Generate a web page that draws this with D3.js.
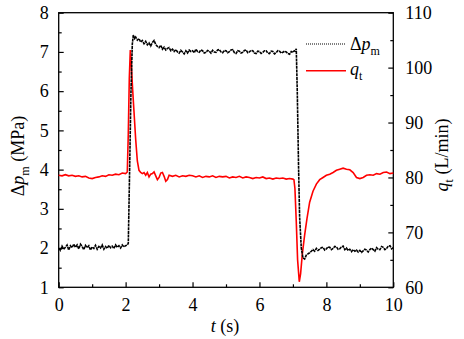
<!DOCTYPE html>
<html><head><meta charset="utf-8">
<script src="https://cdn.jsdelivr.net/npm/d3@7"></script>
<style>body{margin:0;background:#fff}svg{display:block}</style>
</head><body><svg id="c" width="464" height="339"></svg>
<script>
// ---- data ----
const xTicks = [0,2,4,6,8,10];
const yLeftTicks = [1,2,3,4,5,6,7,8];
const yRightTicks = [60,70,80,90,100,110];
// Δp_m (MPa) vs t (s)
const dpT = [0,0.05,0.1,0.15,0.2,0.25,0.3,0.35,0.4,0.45,0.5,0.55,0.6,0.65,0.7,0.75,0.8,0.85,0.9,0.95,1.0,1.05,1.1,1.15,1.2,1.25,1.3,1.35,1.4,1.45,1.5,1.55,1.6,1.65,1.7,1.75,1.8,1.85,1.9,1.95,2.0,2.05,2.08,2.12,2.16,2.2,2.23,2.27,2.3,2.35,2.4,2.45,2.5,2.55,2.6,2.65,2.7,2.75,2.8,2.85,2.9,2.95,3.0,3.05,3.1,3.15,3.2,3.25,3.3,3.35,3.4,3.45,3.5,3.55,3.6,3.65,3.7,3.75,3.8,3.85,3.9,3.95,4.0,4.05,4.1,4.15,4.2,4.25,4.3,4.35,4.4,4.45,4.5,4.55,4.6,4.65,4.7,4.75,4.8,4.85,4.9,4.95,5.0,5.05,5.1,5.15,5.2,5.25,5.3,5.35,5.4,5.45,5.5,5.55,5.6,5.65,5.7,5.75,5.8,5.85,5.9,5.95,6.0,6.05,6.1,6.15,6.2,6.25,6.3,6.35,6.4,6.45,6.5,6.55,6.6,6.65,6.7,6.75,6.8,6.85,6.9,6.95,7.0,7.04,7.07,7.1,7.13,7.17,7.2,7.25,7.3,7.35,7.4,7.45,7.5,7.55,7.6,7.65,7.7,7.75,7.8,7.85,7.9,7.95,8.0,8.05,8.1,8.15,8.2,8.25,8.3,8.35,8.4,8.45,8.5,8.55,8.6,8.65,8.7,8.75,8.8,8.85,8.9,8.95,9.0,9.05,9.1,9.15,9.2,9.25,9.3,9.35,9.4,9.45,9.5,9.55,9.6,9.65,9.7,9.75,9.8,9.85,9.9,9.95,10.0];
const dpV = [2.00,1.94,2.05,1.97,2.02,2.08,1.95,2.06,2.01,2.10,2.02,2.08,1.98,2.10,2.04,1.96,2.07,2.01,2.06,1.95,2.03,1.99,2.07,1.97,2.04,2.00,2.08,1.97,2.04,1.99,2.07,2.01,2.05,1.99,2.08,2.02,2.06,2.00,2.08,2.03,2.06,2.08,2.12,4.0,6.0,7.2,7.43,7.34,7.38,7.30,7.34,7.25,7.29,7.21,7.27,7.18,7.23,7.15,7.24,7.29,7.19,7.14,7.11,7.17,7.07,7.12,7.05,7.09,7.11,7.03,7.07,7.01,7.06,7.00,6.97,7.04,7.00,6.95,7.03,6.97,7.05,7.01,7.03,6.98,7.07,7.01,6.99,7.05,7.03,6.97,6.99,7.04,7.02,6.97,7.04,7.00,6.99,7.05,7.06,7.00,6.98,7.04,7.03,6.98,7.01,7.05,7.06,6.98,6.96,7.03,7.02,6.97,6.99,7.04,7.05,6.98,7.00,7.04,7.03,6.97,6.96,7.02,7.01,6.96,6.99,7.03,7.03,6.97,6.96,7.02,7.01,6.95,6.98,7.03,7.02,6.97,6.99,7.02,7.00,6.96,6.94,7.01,6.99,7.03,7.02,7.08,6.0,4.0,2.8,2.0,1.75,1.72,1.82,1.85,1.88,1.92,1.96,1.92,1.99,1.94,1.97,2.01,2.02,1.95,1.98,2.03,2.02,1.96,1.99,2.04,2.03,1.97,1.98,2.03,2.05,1.96,2.00,1.94,1.97,1.91,1.96,1.92,1.95,1.90,1.94,1.89,1.93,1.97,1.95,1.90,1.96,2.00,1.96,1.92,2.01,1.97,1.96,2.04,2.02,1.96,1.99,2.05,2.06,1.98,2.01,2.07,2.03];
// q_t (L/min) vs t (s)
const qT = [0,0.1,0.2,0.3,0.4,0.5,0.6,0.7,0.8,0.9,1.0,1.1,1.2,1.3,1.4,1.5,1.6,1.7,1.8,1.9,2.0,2.05,2.08,2.11,2.14,2.17,2.21,2.25,2.3,2.35,2.4,2.45,2.5,2.55,2.6,2.65,2.7,2.75,2.8,2.85,2.9,2.95,3.0,3.05,3.1,3.15,3.2,3.25,3.3,3.4,3.5,3.6,3.7,3.8,3.9,4.0,4.1,4.2,4.3,4.4,4.5,4.6,4.7,4.8,4.9,5.0,5.1,5.2,5.3,5.4,5.5,5.6,5.7,5.8,5.9,6.0,6.1,6.2,6.3,6.4,6.5,6.6,6.7,6.8,6.9,7.0,7.03,7.06,7.1,7.14,7.19,7.23,7.28,7.35,7.42,7.5,7.6,7.7,7.8,7.9,8.0,8.1,8.2,8.3,8.4,8.5,8.6,8.7,8.8,8.9,9.0,9.1,9.2,9.3,9.4,9.5,9.6,9.7,9.8,9.9,10.0];
const qV = [80.4,80.3,80.5,80.3,80.4,80.2,80.3,80.1,80.2,79.9,79.8,80.0,80.1,80.3,80.2,80.5,80.4,80.6,80.5,80.8,80.7,81.0,88,98,103.2,100.5,96,92,87,83,81.3,80.9,80.7,80.9,80.4,80.9,80.1,80.6,80.7,81.0,80.3,79.6,80.0,80.8,80.9,80.2,79.3,79.6,80.4,80.2,80.4,80.1,80.3,80.2,80.4,80.3,80.1,80.3,80.0,80.2,80.1,80.3,80.0,80.2,80.1,80.2,79.9,80.1,80.0,80.2,79.9,80.1,80.0,79.8,80.0,79.9,80.1,79.8,79.9,79.7,79.9,79.8,79.9,79.7,79.8,79.7,79.6,78,72,65,61.0,62.5,66,69.5,72.5,75.5,77.5,78.8,79.6,80.0,80.4,80.6,80.9,81.3,81.5,81.7,81.5,81.4,80.9,80.0,79.8,80.0,80.4,80.5,80.4,80.7,80.6,80.9,81.0,80.7,80.8];

// ---- layout ----
const FONT = "Liberation Serif";
const svg = d3.select('#c');
const L = 58.7, R = 393.3, T = 12.7, B = 287.3;
const x = d3.scaleLinear().domain([0,10]).range([L,R]);
const yL = d3.scaleLinear().domain([1,8]).range([B,T]);
const yR = d3.scaleLinear().domain([60,110]).range([B,T]);
const FS = 18;

// frame
svg.append('rect').attr('x',L).attr('y',T).attr('width',R-L).attr('height',B-T)
  .attr('fill','none').attr('stroke','#000').attr('stroke-width',1.3);

function styleAxis(g){
  g.attr('font-family', FONT).attr('font-size', FS);
  g.select('.domain').remove();
  g.selectAll('line').attr('stroke','#000').attr('stroke-width',1.2);
  g.selectAll('text').attr('font-size',FS).attr('fill','#000').attr('font-family', FONT);
}
// bottom axis
const gx = svg.append('g').attr('transform',`translate(0,${B})`)
  .call(d3.axisBottom(x).tickValues(xTicks).tickFormat(d3.format('d')).tickSizeInner(-5).tickSizeOuter(0).tickPadding(11));
styleAxis(gx);
const gxm = svg.append('g').attr('transform',`translate(0,${B})`)
  .call(d3.axisBottom(x).tickValues([1,3,5,7,9]).tickFormat('').tickSizeInner(-3).tickSizeOuter(0));
styleAxis(gxm);
// left axis
const gl = svg.append('g').attr('transform',`translate(${L},0)`)
  .call(d3.axisLeft(yL).tickValues(yLeftTicks).tickFormat(d3.format('d')).tickSizeInner(-5).tickSizeOuter(0).tickPadding(10));
styleAxis(gl);
const glm = svg.append('g').attr('transform',`translate(${L},0)`)
  .call(d3.axisLeft(yL).tickValues([1.5,2.5,3.5,4.5,5.5,6.5,7.5]).tickFormat('').tickSizeInner(-3).tickSizeOuter(0));
styleAxis(glm);
// right axis
const gr = svg.append('g').attr('transform',`translate(${R},0)`)
  .call(d3.axisRight(yR).tickValues(yRightTicks).tickFormat(d3.format('d')).tickSizeInner(-5).tickSizeOuter(0).tickPadding(12));
styleAxis(gr);
const grm = svg.append('g').attr('transform',`translate(${R},0)`)
  .call(d3.axisRight(yR).tickValues([65,75,85,95,105]).tickFormat('').tickSizeInner(-3).tickSizeOuter(0));
styleAxis(grm);

// lines
const dpData = dpT.map((t,i)=>[t,dpV[i]]);
const qData = qT.map((t,i)=>[t,qV[i]]);
svg.append('path').datum(qData)
  .attr('d', d3.line().x(d=>x(d[0])).y(d=>yR(d[1])))
  .attr('fill','none').attr('stroke','#ff0000').attr('stroke-width',1.6);
svg.append('path').datum(dpData)
  .attr('d', d3.line().x(d=>x(d[0])).y(d=>yL(d[1])))
  .attr('fill','none').attr('stroke','#000').attr('stroke-width',1.6).attr('stroke-dasharray','3,0.7');

// legend
svg.append('line').attr('x1',306).attr('x2',346).attr('y1',44).attr('y2',44)
  .attr('stroke','#000').attr('stroke-width',1.1).attr('stroke-dasharray','1,1');
svg.append('line').attr('x1',306).attr('x2',346).attr('y1',70.7).attr('y2',70.7)
  .attr('stroke','#ff0000').attr('stroke-width',1.5);
function txt(attrs){ const t = svg.append('text').attr('font-family',FONT).attr('font-size',FS).attr('fill','#000'); for(const k in attrs) t.attr(k,attrs[k]); return t; }
const lg1 = txt({x:350,y:50});
lg1.append('tspan').text('Δ');
lg1.append('tspan').attr('font-style','italic').text('p');
lg1.append('tspan').attr('font-size',12).attr('dy',5).text('m');
const lg2 = txt({x:350,y:75});
lg2.append('tspan').attr('font-style','italic').text('q');
lg2.append('tspan').attr('font-size',12).attr('dy',5).text('t');

// axis titles
const xt = txt({x:225,y:332,'text-anchor':'middle'});
xt.append('tspan').attr('font-style','italic').text('t');
xt.append('tspan').text(' (s)');

const ylt = txt({transform:'translate(24,156) rotate(-90)','text-anchor':'middle'});
ylt.append('tspan').text('Δ');
ylt.append('tspan').attr('font-style','italic').text('p');
ylt.append('tspan').attr('font-size',12).attr('dy',5).text('m');
ylt.append('tspan').attr('dy',-5).text(' (MPa)');

const yrt = txt({transform:'translate(448,155) rotate(-90)','text-anchor':'middle'});
yrt.append('tspan').attr('font-style','italic').text('q');
yrt.append('tspan').attr('font-size',12).attr('dy',5).text('t');
yrt.append('tspan').attr('dy',-5).text(' (L/min)');
</script></body></html>
